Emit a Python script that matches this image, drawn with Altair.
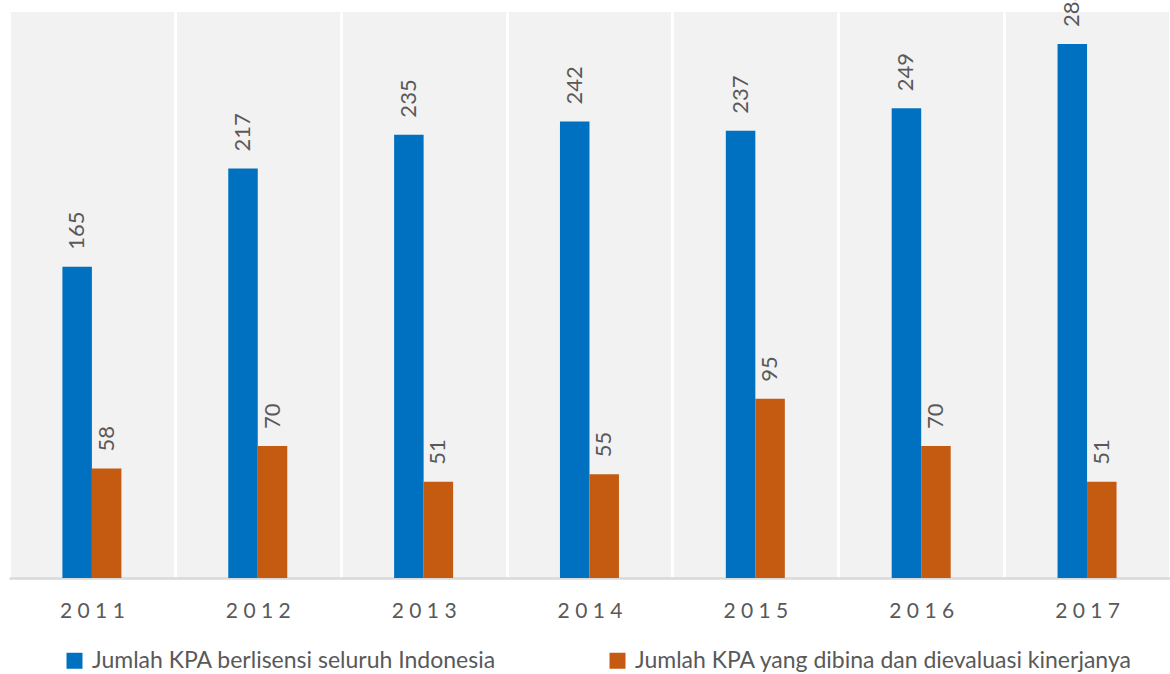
import altair as alt
import pandas as pd

years = ["2011", "2012", "2013", "2014", "2015", "2016", "2017"]
licensed = [165, 217, 235, 242, 237, 249, 283]
evaluated = [58, 70, 51, 55, 95, 70, 51]
series_names = [
    "Jumlah KPA berlisensi seluruh Indonesia",
    "Jumlah KPA yang dibina dan dievaluasi kinerjanya",
]
colors = ["#0070c0", "#c55a11"]

rows = []
for i, y in enumerate(years):
    rows.append({"year": y, "series": series_names[0], "value": licensed[i]})
    rows.append({"year": y, "series": series_names[1], "value": evaluated[i]})
df = pd.DataFrame(rows)

FONT = "Lato"
GRAY = "#595959"

x = alt.X(
    "year:N",
    sort=years,
    scale=alt.Scale(paddingInner=0, paddingOuter=0),
    axis=alt.Axis(
        title=None,
        labelAngle=0,
        labelExpr="join(split(datum.label, ''), ' ')",
        labelFont=FONT,
        labelFontSize=21,
        labelColor=GRAY,
        labelPadding=22,
        ticks=False,
        domainColor="#d9d9d9",
        domainWidth=2.5,
        grid=True,
        gridColor="white",
        gridWidth=3,
        tickBand="extent",
    ),
)
xoff = alt.XOffset(
    "series:N",
    sort=series_names,
    scale=alt.Scale(range=[53.4, 112.4], paddingInner=0, paddingOuter=0),
)
y = alt.Y("value:Q", scale=alt.Scale(domain=[0, 300]), axis=None)

color = alt.Color(
    "series:N",
    sort=series_names,
    scale=alt.Scale(domain=series_names, range=colors),
    legend=alt.Legend(
        title=None,
        orient="none",
        legendX=54,
        legendY=637,
        direction="horizontal",
        symbolType="square",
        symbolSize=256,
        symbolStrokeWidth=0,
        labelFont=FONT,
        labelFontSize=23,
        labelColor=GRAY,
        labelOffset=6,
        labelLimit=0,
        columnPadding=110,
    ),
)

bars = alt.Chart(df).mark_bar(strokeWidth=0).encode(x=x, xOffset=xoff, y=y, color=color)

labels = alt.Chart(df).mark_text(
    angle=270, align="left", baseline="middle", dx=17,
    font=FONT, fontSize=22, color=GRAY,
).encode(x=x, xOffset=xoff, y=y, text="value:Q")

chart = (
    alt.layer(bars, labels)
    .properties(
        width=1161,
        height=566,
        autosize=alt.AutoSizeParams(type="none"),
        padding={"left": 9, "top": 12, "right": 0, "bottom": 96},
        background="white",
    )
    .configure_view(fill="#f2f2f2", strokeWidth=0)
)

chart.save("out.html", embed_options={"renderer": "svg", "actions": False})
